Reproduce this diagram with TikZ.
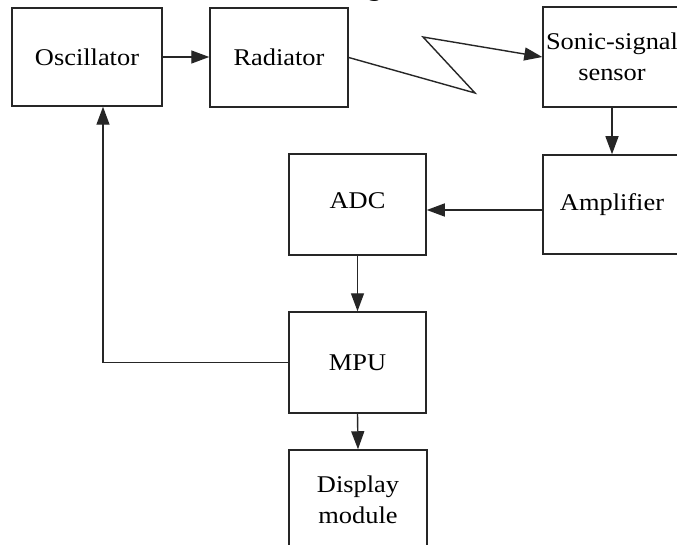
\documentclass[tikz,border=0pt]{standalone}
\usepackage{fontspec}
\setmainfont{Liberation Serif}[FakeStretch=1.1]
\usetikzlibrary{arrows.meta,calc}
\begin{document}
\begin{tikzpicture}[x=1pt,y=1pt,
  blk/.style={draw=black!85,line width=1.5pt,inner sep=0pt,align=center,
    font=\fontsize{24}{31}\selectfont},
  conn/.style={draw=black!85,line width=1.4pt,-{Triangle[length=18pt,width=13pt]}}]
\useasboundingbox[fill=white] (0,0) rectangle (677,-545);
% cut-off title fragment
\node[anchor=base,inner sep=0pt,font=\fontsize{28}{30}\selectfont\itshape] (ttl) at (377,4.5) {g};
\node[blk,minimum width=150pt,minimum height=98pt] (osc) at (87,-57) {Oscillator};
\node[blk,minimum width=138pt,minimum height=99pt] (rad) at (279,-57.5) {Radiator};
\node[blk,minimum width=138pt,minimum height=100pt] (sen) at (612,-57) {Sonic-signal\\sensor};
\node[blk,minimum width=138pt,minimum height=99pt] (amp) at (612,-204.5) {Amplifier};
\node[blk,minimum width=137pt,minimum height=101pt] (adc) at (357.5,-204.5) {\raisebox{7pt}{ADC}};
\node[blk,minimum width=137pt,minimum height=101pt] (mpu) at (357.5,-362.5) {MPU};
\node[blk,minimum width=138pt,minimum height=100pt] (disp) at (358,-500) {Display\\module};
\coordinate (z1) at (475,-93);
\coordinate (z2) at (423,-37);
\draw[conn] (osc.east) -- (osc.east -| rad.west);
\draw[conn] (rad.east) -- (z1) -- (z2) -- (sen.west);
\draw[conn] (sen.south) -- (amp.north);
\draw[conn] ([yshift=-5.5pt]amp.west) -- ([yshift=-5.5pt]adc.east);
\draw[conn] (adc.south) -- (mpu.north);
\draw[conn] (mpu.south) -- (disp.north);
\draw[conn] (mpu.west) -| ([xshift=16pt]osc.south);
\end{tikzpicture}
\end{document}
